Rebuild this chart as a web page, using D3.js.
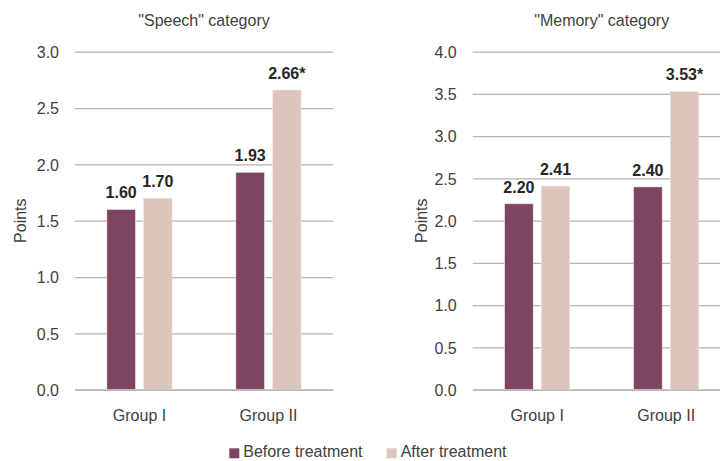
<!DOCTYPE html>
<html><head><meta charset="utf-8">
<script src="https://cdn.jsdelivr.net/npm/d3@7/dist/d3.min.js"></script>
<style>
html,body{margin:0;padding:0;background:#fff;}
svg{display:block;font-family:"Liberation Sans",Arial,sans-serif;}
</style></head>
<body>
<script>
const groups = ["Group I", "Group II"];
const seriesNames = ["Before treatment", "After treatment"];
const speechBefore = [1.60, 1.93];
const speechAfter = [1.70, 2.66];
const speechLabels = [["1.60", "1.93"], ["1.70", "2.66*"]];
const memoryBefore = [2.20, 2.40];
const memoryAfter = [2.41, 3.53];
const memoryLabels = [["2.20", "2.40"], ["2.41", "3.53*"]];
const speechTicks = [0, 0.5, 1.0, 1.5, 2.0, 2.5, 3.0];
const memoryTicks = [0, 0.5, 1.0, 1.5, 2.0, 2.5, 3.0, 3.5, 4.0];
const titles = ['"Speech" category', '"Memory" category'];
const colors = ["#7e4461", "#dcc5ba"];

const W = 720, H = 461;
const svg = d3.select("body").append("svg").attr("width", W).attr("height", H);

function panel(cfg) {
  const y = d3.scaleLinear().domain([0, cfg.max]).range([389.7, 51.7]);
  const x0 = d3.scaleBand().domain(groups).range([cfg.x0, cfg.x0 + 258])
    .paddingInner(0.494).paddingOuter(0.247);
  const x1 = d3.scaleBand().domain([0, 1]).range([0, x0.bandwidth()]).paddingInner(0.218).paddingOuter(0);
  const g = svg.append("g");

  // gridlines
  const yAxis = d3.axisLeft(y).tickValues(cfg.ticks).tickFormat(d3.format(".1f"))
    .tickSize(-258).tickPadding(16);
  const ya = g.append("g").attr("transform", `translate(${cfg.x0},0)`).call(yAxis);
  ya.select(".domain").remove();
  ya.selectAll(".tick line").attr("stroke", "#b3b3b3").attr("stroke-width", 1.3);
  ya.selectAll(".tick text").attr("fill", "#404040").attr("font-size", 16)
    .attr("font-family", '"Liberation Sans",Arial,sans-serif').attr("dy", "0.36em");

  // bars
  const data = [cfg.before, cfg.after];
  groups.forEach((grp, gi) => {
    [0, 1].forEach(si => {
      const v = data[si][gi];
      g.append("rect")
        .attr("x", x0(grp) + x1(si)).attr("width", x1.bandwidth())
        .attr("y", y(v)).attr("height", y(0) - y(v))
        .attr("fill", colors[si]).attr("stroke", "#f3ecea").attr("stroke-width", 0.6);
      g.append("text")
        .attr("x", x0(grp) + x1(si) + x1.bandwidth() / 2).attr("y", y(v) - 11)
        .attr("text-anchor", "middle").attr("font-weight", "bold").attr("font-size", 16)
        .attr("font-family", '"Liberation Sans Narrow","Arial Narrow","Liberation Sans",sans-serif')
        .attr("fill", "#262626").text(cfg.labels[si][gi]);
    });
  });

  // x axis
  const xAxis = d3.axisBottom(x0).tickSize(0).tickPadding(20);
  const xa = g.append("g").attr("transform", `translate(0,${y(0)})`).call(xAxis);
  xa.select(".domain").attr("stroke", "#b3b3b3").attr("stroke-width", 1.3);
  xa.selectAll(".tick text").attr("fill", "#404040").attr("font-size", 16)
    .attr("font-family", '"Liberation Sans",Arial,sans-serif');

  // title
  g.append("text").attr("x", cfg.x0 + 129).attr("y", 26).attr("text-anchor", "middle")
    .attr("font-size", 16).attr("fill", "#404040").text(cfg.title);
  // y label
  g.append("text").attr("transform", `translate(${cfg.ylx},${(y(0) + y(cfg.max)) / 2}) rotate(-90)`)
    .attr("text-anchor", "middle").attr("font-size", 16).attr("fill", "#404040").text("Points");
}

panel({x0: 75, max: 3, ticks: speechTicks, before: speechBefore, after: speechAfter,
  labels: speechLabels, title: titles[0], ylx: 25.5});
panel({x0: 472.7, max: 4, ticks: memoryTicks, before: memoryBefore, after: memoryAfter,
  labels: memoryLabels, title: titles[1], ylx: 427});

// legend
const legX = [229.3, 386.7];
seriesNames.forEach((n, i) => {
  svg.append("rect").attr("x", legX[i]).attr("y", 448.3).attr("width", 10).attr("height", 10).attr("fill", colors[i]);
  svg.append("text").attr("x", legX[i] + 14).attr("y", 457).attr("font-size", 16).attr("fill", "#404040").text(n);
});
</script>
</body></html>
